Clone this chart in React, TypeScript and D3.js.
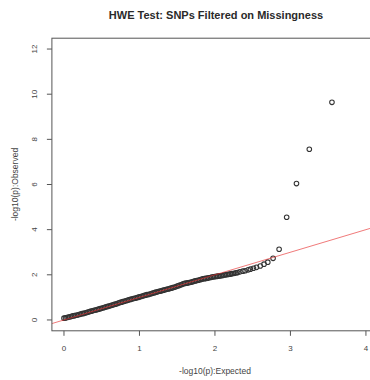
import React from "react";
import * as d3 from "d3";

// Q-Q plot of HWE test p-values (-log10 scale)
const expected: number[] = [
  0.0, 0.02, 0.04, 0.06, 0.08, 0.1, 0.12, 0.14, 0.16, 0.18,
  0.2, 0.22, 0.24, 0.26, 0.28, 0.3, 0.32, 0.34, 0.36, 0.38,
  0.4, 0.42, 0.44, 0.46, 0.48, 0.5, 0.52, 0.54, 0.56, 0.58,
  0.6, 0.62, 0.64, 0.66, 0.68, 0.7, 0.72, 0.74, 0.76, 0.78,
  0.8, 0.82, 0.84, 0.86, 0.88, 0.9, 0.92, 0.94, 0.96, 0.98,
  1.0, 1.02, 1.04, 1.06, 1.08, 1.1, 1.12, 1.14, 1.16, 1.18,
  1.2, 1.22, 1.24, 1.26, 1.28, 1.3, 1.32, 1.34, 1.36, 1.38,
  1.4, 1.42, 1.44, 1.46, 1.48, 1.5, 1.52, 1.54, 1.56, 1.58,
  1.6, 1.62, 1.64, 1.66, 1.68, 1.7, 1.72, 1.74, 1.76, 1.78,
  1.8, 1.82, 1.84, 1.86, 1.88, 1.9, 1.92, 1.94, 1.96, 1.98,
  2.0, 2.02, 2.04, 2.06, 2.08, 2.1, 2.12, 2.14, 2.16, 2.18,
  2.2, 2.22, 2.24, 2.26, 2.28, 2.3,
  2.33, 2.37, 2.4, 2.44, 2.47, 2.51, 2.55, 2.6, 2.65, 2.7,
  2.77, 2.85, 2.95, 3.08, 3.25, 3.55,
];

const observed: number[] = [
  0.08, 0.09, 0.11, 0.13, 0.14, 0.16, 0.18, 0.19, 0.21, 0.22,
  0.24, 0.26, 0.28, 0.29, 0.31, 0.33, 0.35, 0.37, 0.39, 0.41,
  0.43, 0.44, 0.46, 0.48, 0.5, 0.52, 0.54, 0.56, 0.58, 0.6,
  0.62, 0.64, 0.66, 0.68, 0.7, 0.72, 0.75, 0.77, 0.79, 0.81,
  0.83, 0.85, 0.87, 0.89, 0.91, 0.93, 0.95, 0.96, 0.98, 1.0,
  1.02, 1.04, 1.06, 1.08, 1.1, 1.12, 1.13, 1.15, 1.17, 1.19,
  1.21, 1.23, 1.25, 1.27, 1.28, 1.3, 1.32, 1.34, 1.36, 1.37,
  1.39, 1.41, 1.43, 1.45, 1.47, 1.5, 1.52, 1.55, 1.57, 1.6,
  1.62, 1.63, 1.64, 1.66, 1.67, 1.69, 1.71, 1.73, 1.75, 1.76,
  1.78, 1.8, 1.82, 1.83, 1.84, 1.85, 1.87, 1.88, 1.9, 1.91,
  1.92, 1.93, 1.94, 1.95, 1.96, 1.97, 1.99, 2.0, 2.01, 2.02,
  2.03, 2.05, 2.06, 2.07, 2.09, 2.1,
  2.13, 2.16, 2.18, 2.22, 2.25, 2.29, 2.33, 2.39, 2.47, 2.56,
  2.73, 3.13, 4.55, 6.04, 7.56, 9.64,
];

const xTicks: number[] = [0, 1, 2, 3, 4];
const yTicks: number[] = [0, 2, 4, 6, 8, 10, 12];

const title = "HWE Test: SNPs Filtered on Missingness";
const xTitle = "-log10(p):Expected";
const yTitle = "-log10(p):Observed";

const W = 370;
const H = 380;
const left = 51.9;
const right = 378;
const top = 38.2;
const bottom = 330.8;

export default function App() {
  const x = d3.scaleLinear().domain([-0.16, 4.16]).range([left, right]);
  const y = d3.scaleLinear().domain([-0.48, 12.48]).range([bottom, top]);
  const pts = expected.map((e, i) => [e, observed[i]] as [number, number]);
  const font = "'Liberation Sans', Arial, sans-serif";
  const textCol = "#444";

  return (
    <svg
      width={W}
      height={H}
      style={{ position: "absolute", left: 0, top: 0, background: "#fff" }}
      fontFamily={font}
    >
      <rect x={0} y={0} width={W} height={H} fill="#fff" />
      <text x={216} y={19} textAnchor="middle" fontWeight="bold" fontSize={11} fill="#2a2a2a">
        {title}
      </text>

      {/* data points */}
      <g fill="none" stroke="#333" strokeWidth={1.05}>
        {pts.map(([e, o], i) => (
          <circle key={i} cx={x(e)} cy={y(o)} r={2.3} />
        ))}
      </g>

      {/* reference line y = x */}
      <line
        x1={x(-0.16)}
        y1={y(-0.16)}
        x2={x(4.16)}
        y2={y(4.16)}
        stroke="#e83030"
        strokeWidth={0.8}
        opacity={0.8}
      />

      {/* frame */}
      <rect x={left} y={top} width={right - left} height={bottom - top} fill="none" stroke="#555" strokeWidth={1} />

      {/* x axis */}
      <g>
        {xTicks.map((t) => (
          <g key={t}>
            <line x1={x(t)} x2={x(t)} y1={bottom} y2={bottom + 5} stroke="#555" />
            <text x={x(t)} y={bottom + 20} textAnchor="middle" fontSize={8} fill={textCol}>
              {t}
            </text>
          </g>
        ))}
        <text x={215} y={374} textAnchor="middle" fontSize={8.5} fill={textCol}>
          {xTitle}
        </text>
      </g>

      {/* y axis */}
      <g>
        {yTicks.map((t) => (
          <g key={t}>
            <line x1={left} x2={left - 5} y1={y(t)} y2={y(t)} stroke="#555" />
            <text
              transform={`translate(${left - 15},${y(t)}) rotate(-90)`}
              textAnchor="middle"
              fontSize={8}
              fill={textCol}
            >
              {t}
            </text>
          </g>
        ))}
        <text
          transform={`translate(18,${(top + bottom) / 2}) rotate(-90)`}
          textAnchor="middle"
          fontSize={8.5}
          fill={textCol}
        >
          {yTitle}
        </text>
      </g>
    </svg>
  );
}
